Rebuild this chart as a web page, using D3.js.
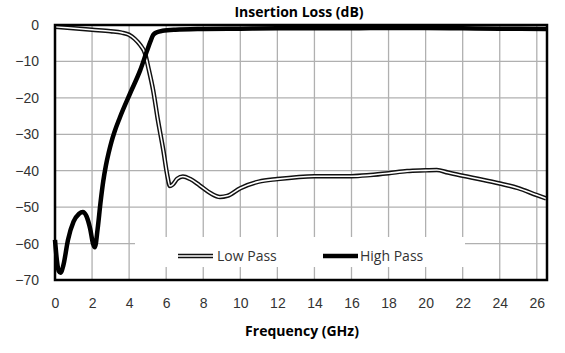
<!DOCTYPE html>
<html>
<head>
<meta charset="utf-8">
<script src="https://cdn.jsdelivr.net/npm/d3@7"></script>
<style>
  body { margin: 0; background: #fff; }
  svg { display: block; font-family: "Open Sans", "Liberation Sans", sans-serif; }
</style>
</head>
<body>
<div id="chart"></div>
<script>
// frequency (GHz) and insertion loss (dB)
const lowPassFreq = [0, 1, 2, 3, 3.6, 4.0, 4.3, 4.6, 4.85, 5.05, 5.3, 5.55, 5.85, 6.05, 6.2, 6.35, 6.6, 6.9, 7.3, 7.8, 8.4, 8.9, 9.3, 10, 11, 12, 14, 16, 17, 18, 19, 20, 20.6, 21.2, 22, 23, 24, 25, 26, 26.5];
const lowPassLoss = [-0.5, -0.9, -1.3, -1.7, -2.1, -2.7, -3.8, -5.5, -7.7, -12, -18, -26, -34.5, -41, -44.2, -43.8, -42.2, -41.6, -42.3, -44, -46.2, -47.2, -46.9, -44.8, -43, -42.3, -41.5, -41.5, -41.2, -40.7, -40.1, -39.9, -39.8, -40.5, -41.4, -42.4, -43.5, -44.8, -46.7, -47.6];

const highPassFreq = [0, 0.1, 0.2, 0.3, 0.45, 0.7, 1.0, 1.3, 1.5, 1.7, 1.9, 2.05, 2.15, 2.3, 2.45, 2.6, 2.75, 2.9, 3.05, 3.2, 3.5, 4.05, 4.6, 4.95, 5.15, 5.3, 5.5, 5.8, 6.5, 8, 10, 12, 14, 16, 18, 20, 22, 24, 26.5];
const highPassLoss = [-59, -64.5, -67.5, -68, -66, -59, -54, -51.8, -51.3, -52.5, -56, -60, -61, -56, -49, -43, -38.5, -35, -32, -29.5, -25.4, -18.8, -12.4, -7.3, -4.5, -2.7, -2.0, -1.6, -1.3, -1.1, -1.0, -0.9, -0.9, -0.9, -0.8, -0.8, -0.9, -1.0, -1.1];

const xTicks = [0, 2, 4, 6, 8, 10, 12, 14, 16, 18, 20, 22, 24, 26];
const yTicks = [0, -10, -20, -30, -40, -50, -60, -70];

const margin = { top: 25, right: 18, bottom: 73, left: 55 },
      width = 565 - margin.left - margin.right,
      height = 353 - margin.top - margin.bottom;

const svg = d3.select("#chart").append("svg")
    .attr("width", 565)
    .attr("height", 353);

const g = svg.append("g")
    .attr("transform", `translate(${margin.left},${margin.top})`);

const x = d3.scaleLinear().domain([0, 26.55]).range([0, width]);
const y = d3.scaleLinear().domain([-70, 0]).range([height, 0]);

// gridlines
g.append("g")
    .selectAll("line")
    .data(xTicks.filter(d => d > 0))
    .join("line")
    .attr("x1", d => x(d)).attr("x2", d => x(d))
    .attr("y1", 0).attr("y2", height)
    .attr("stroke", "#b0b0b0")
    .attr("stroke-width", 1.3);

g.append("g")
    .selectAll("line")
    .data(yTicks.filter(d => d > -70 && d < 0))
    .join("line")
    .attr("x1", 0).attr("x2", width)
    .attr("y1", d => y(d)).attr("y2", d => y(d))
    .attr("stroke", "#b0b0b0")
    .attr("stroke-width", 1.3);

// axes
const xAxis = g.append("g")
    .attr("transform", `translate(0,${height})`)
    .call(d3.axisBottom(x).tickValues(xTicks).tickSize(0).tickPadding(18));
xAxis.select(".domain").remove();
xAxis.selectAll("text")
    .style("font-size", "14px")
    .attr("fill", "#333");

const yAxis = g.append("g")
    .call(d3.axisLeft(y).tickValues(yTicks).tickSize(0).tickPadding(16));
yAxis.select(".domain").remove();
yAxis.selectAll("text")
    .style("font-size", "14px")
    .attr("fill", "#333");

const line = d3.line()
    .x(d => x(d[0]))
    .y(d => y(d[1]))
    .curve(d3.curveMonotoneX);

const lowPass = d3.zip(lowPassFreq, lowPassLoss);
const highPass = d3.zip(highPassFreq, highPassLoss);

// legend background
const legend = g.append("g");
legend.append("rect")
    .attr("x", 80).attr("y", 212)
    .attr("width", 330).attr("height", 30)
    .attr("fill", "#fff");

// low pass: double line (black outline, white core)
g.append("path").datum(lowPass)
    .attr("d", line).attr("fill", "none")
    .attr("stroke", "#111").attr("stroke-width", 4.5);
g.append("path").datum(lowPass)
    .attr("d", line).attr("fill", "none")
    .attr("stroke", "#fff").attr("stroke-width", 1.6);

g.append("path").datum(highPass)
    .attr("d", line).attr("fill", "none")
    .attr("stroke", "#000").attr("stroke-width", 4.5)
    .attr("stroke-linejoin", "round");

// plot border
g.append("rect")
    .attr("width", width).attr("height", height)
    .attr("fill", "none")
    .attr("stroke", "#000")
    .attr("stroke-width", 2.5);

// legend entries
legend.append("line")
    .attr("x1", 123).attr("x2", 158).attr("y1", 231).attr("y2", 231)
    .attr("stroke", "#111").attr("stroke-width", 4.5);
legend.append("line")
    .attr("x1", 123).attr("x2", 158).attr("y1", 231).attr("y2", 231)
    .attr("stroke", "#fff").attr("stroke-width", 1.6);
legend.append("text")
    .attr("x", 162).attr("y", 236)
    .style("font-size", "14px")
    .attr("fill", "#333")
    .text("Low Pass");

legend.append("line")
    .attr("x1", 268).attr("x2", 303).attr("y1", 231).attr("y2", 231)
    .attr("stroke", "#000").attr("stroke-width", 4.5);
legend.append("text")
    .attr("x", 305).attr("y", 236)
    .style("font-size", "14px")
    .attr("fill", "#333")
    .text("High Pass");

// titles
svg.append("text")
    .attr("x", 299).attr("y", 17)
    .attr("text-anchor", "middle")
    .style("font-size", "14px")
    .style("font-weight", "bold")
    .attr("fill", "#000")
    .text("Insertion Loss (dB)");

svg.append("text")
    .attr("x", 302).attr("y", 336)
    .attr("text-anchor", "middle")
    .style("font-size", "14px")
    .style("font-weight", "bold")
    .attr("fill", "#000")
    .text("Frequency (GHz)");
</script>
</body>
</html>
